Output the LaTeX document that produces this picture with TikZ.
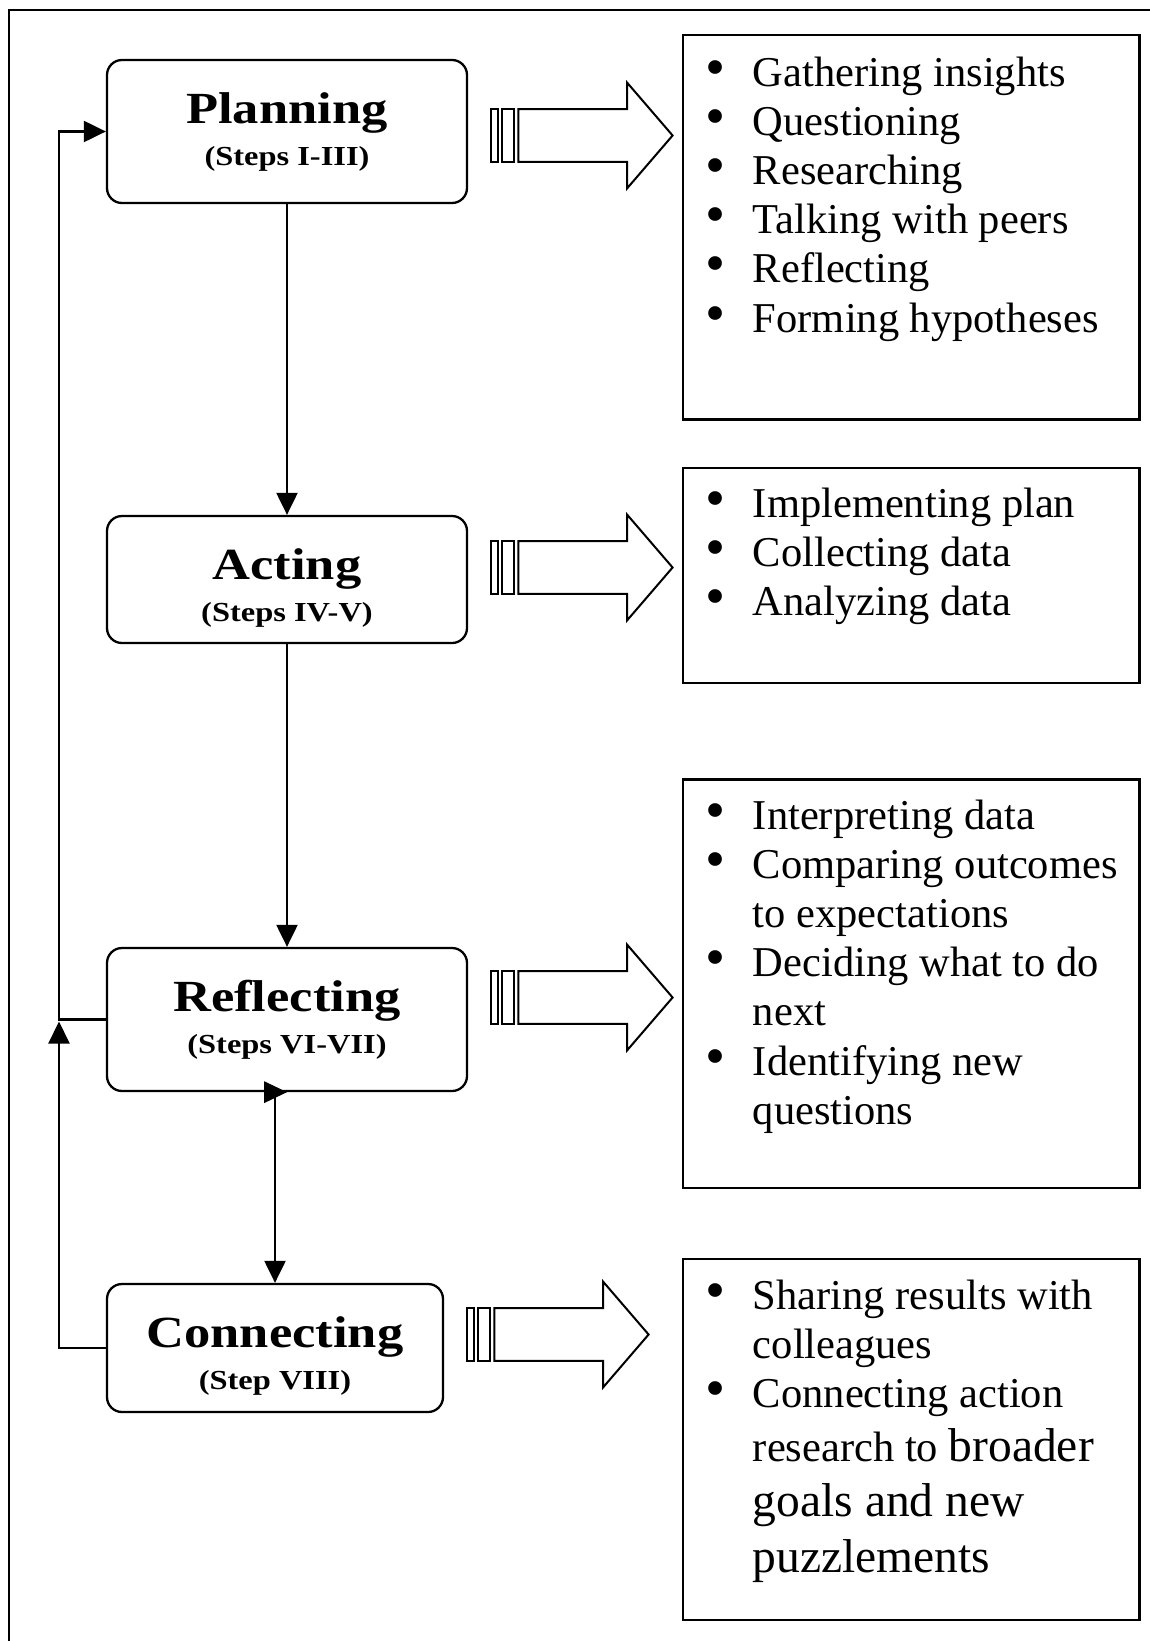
\documentclass[tikz,border=0pt]{standalone}
\usepackage{fontspec}
\setmainfont{Liberation Serif}
\newfontfamily\ttlfont[FakeStretch=1.18]{Liberation Serif}
\usetikzlibrary{arrows.meta}
\newcommand\bl{\makebox[44.7pt][l]{\hspace*{-2.5pt}\scalebox{1.35}{\textbullet}}}
\newcommand\ind{\hspace*{44.7pt}}
\newcommand\bigtxt{\fontsize{47.5}{54}\selectfont}
\newcommand\blockarr[2]{%
  \draw[barrow] (#1,#2-26.4) rectangle (#1+6.7,#2+26.4);
  \draw[barrow] (#1+11,#2-26.4) rectangle (#1+23.3,#2+26.4);
  \draw[barrow] (#1+27.3,#2-26.4) -- (#1+136,#2-26.4) -- (#1+136,#2-53)
     -- (#1+181.6,#2) -- (#1+136,#2+53) -- (#1+136,#2+26.4) -- (#1+27.3,#2+26.4) -- cycle;}
\begin{document}
\begin{tikzpicture}[x=1pt,y=-1pt,
  lbox/.style={draw, line width=2.3pt, rounded corners=15pt, inner sep=0pt},
  rbox/.style={draw, line width=2.3pt, inner sep=0pt},
  conn/.style={line width=2.2pt},
  arr/.style={conn,-{Triangle[length=22pt,width=21pt]}},
  ttl/.style={font=\ttlfont\bfseries\fontsize{44.5}{48}\selectfont, anchor=base, inner sep=0pt},
  subttl/.style={font=\ttlfont\bfseries\fontsize{27.5}{30}\selectfont, anchor=base, inner sep=0pt},
  list/.style={anchor=base west, inner sep=0pt, font=\fontsize{42.5}{49.2}\selectfont},
  barrow/.style={draw, line width=2pt, fill=white, line join=miter}]

\useasboundingbox (0,0) rectangle (1150,1641);
\draw[line width=2.6pt] (9,1650) -- (9,10) -- (1160,10);

% left boxes
\node[lbox, minimum width=360pt, minimum height=143pt] (plan) at (287,131.5) {};
\node[lbox, minimum width=360pt, minimum height=127pt] (act) at (287,579.5) {};
\node[lbox, minimum width=360pt, minimum height=143pt] (reflect) at (287,1019.5) {};
\node[lbox, minimum width=336pt, minimum height=128pt] (connect) at (275,1348) {};

\node[ttl] (planT) at (287,123) {Planning};
\node[subttl] (planS) at (287,165) {(Steps I-III)};
\node[ttl] (actT) at (287,579) {Acting};
\node[subttl] (actS) at (287,621) {(Steps IV-V)};
\node[ttl] (reflT) at (287,1011) {Reflecting};
\node[subttl] (reflS) at (287,1053) {(Steps VI-VII)};
\node[ttl] (connT) at (275,1347) {Connecting};
\node[subttl] (connS) at (275,1389) {(Step VIII)};

% connectors
\coordinate (lx) at (59,0);
\draw[arr] (plan.south) -- (act.north);
\draw[arr] (act.south) -- (reflect.north);
\draw[arr] (connect.north |- reflect.south) -- (connect.north);
\fill (connect.north |- reflect.south) ++(-11,-11) -- ++(0,22) -- ++(23,-11) -- cycle;
\draw[arr] (reflect.west) -- (reflect.west -| lx) |- (plan.west);
\draw[arr] (connect.west) -- (connect.west -| lx) -- ([yshift=-2pt]reflect.west -| lx);

% block arrows
\blockarr{491}{135.5}
\blockarr{491}{567.5}
\blockarr{491}{997.5}
\blockarr{467}{1334.5}

% right boxes
\node[rbox, minimum width=456.5pt, minimum height=384.6pt] (b1) at (911.25,227.3) {};
\node[rbox, minimum width=456.5pt, minimum height=215.6pt] (b2) at (911.25,575.5) {};
\node[rbox, minimum width=456.5pt, minimum height=408.1pt] (b3) at (911.25,983.65) {};
\node[rbox, minimum width=456.5pt, minimum height=361.2pt] (b4) at (911.25,1439.4) {};

\node[list] (l1) at (708,86) {\parbox[t]{430pt}{\bl Gathering insights\\
\bl Questioning\\
\bl Researching\\
\bl Talking with peers\\
\bl Reflecting\\
\bl Forming hypotheses}};

\node[list] (l2) at (708,517) {\parbox[t]{430pt}{\bl Implementing plan\\
\bl Collecting data\\
\bl Analyzing data}};

\node[list] (l3) at (708,829) {\parbox[t]{430pt}{\bl Interpreting data\\
\bl Comparing outcomes\\
\ind to expectations\\
\bl Deciding what to do\\
\ind next\\
\bl Identifying new\\
\ind questions}};

\node[list] (l4) at (708,1309) {\parbox[t]{430pt}{\bl Sharing results with\\
\ind colleagues\\
\bl Connecting action\\[5.2pt]
\ind research to {\bigtxt broader}\\[5.2pt]
\ind {\bigtxt goals and new}\\[7.2pt]
\ind {\bigtxt puzzlements}}};
\end{tikzpicture}
\end{document}
